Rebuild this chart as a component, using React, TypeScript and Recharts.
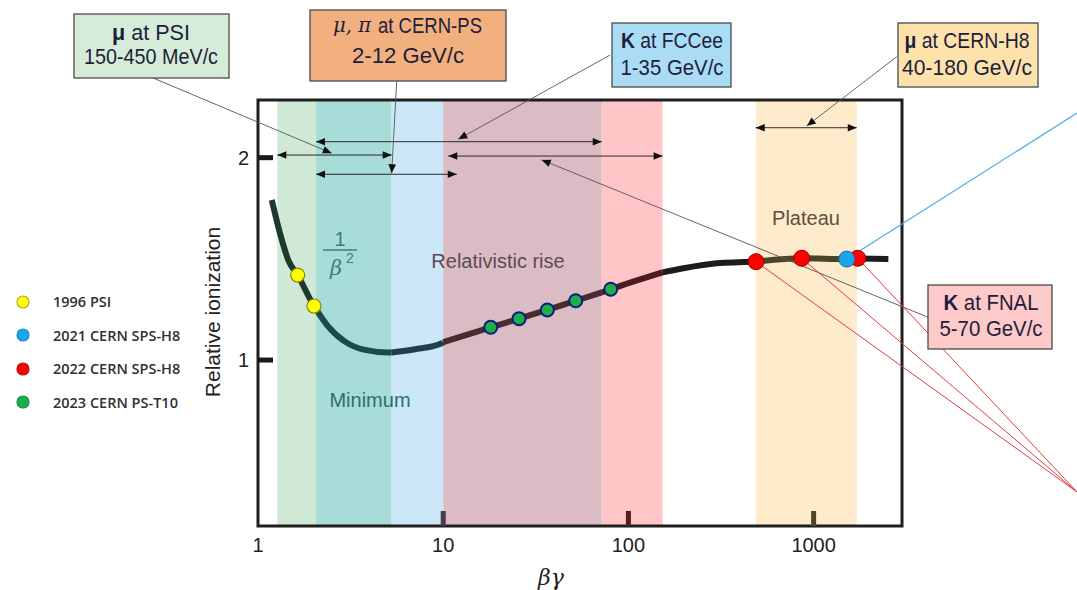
import React from "react";
import {
  ComposedChart,
  Line,
  Scatter,
  XAxis,
  YAxis,
  ReferenceArea,
  ReferenceLine,
  Legend,
} from "recharts";

// ionization curve (βγ, relative ionization)
const CURVE_X = [1.186, 1.315, 1.457, 1.638, 2.006, 2.057, 2.397, 2.95, 3.782, 5.053, 5.27, 7.043, 9.815, 10, 18.05, 25.67, 36.48, 51.94, 71.8, 80.26, 153, 197.9, 299.9, 487, 862.4, 1509, 1709, 2532];
const CURVE_Y = [1.791, 1.626, 1.494, 1.42, 1.267, 1.252, 1.165, 1.091, 1.05, 1.037, 1.037, 1.053, 1.083, 1.089, 1.162, 1.2045, 1.2475, 1.293, 1.334, 1.35, 1.433, 1.4535, 1.478, 1.486, 1.503, 1.499, 1.502, 1.499];

// the curve takes the tint of the band it runs through
const CURVE_BREAKS = [2.057, 5.27, 10, 71.8, 153, 487, 1709];
const CURVE_COLORS = ["#1d3a2c", "#1b4a47", "#213e4f", "#4a2b32", "#4a1d1f", "#1c1c1c", "#4c4427", "#1c1c1c"];

// shaded βγ ranges
const BAND_FROM = [1.271, 2.057, 5.27, 10, 71.8, 487];
const BAND_TO = [2.057, 5.27, 10, 71.8, 153, 1709];
const BAND_FILL = ["#d0e9d6", "#a7dcd8", "#cce8f8", "#dbbcc5", "#ffc5c7", "#fdebcb"];

// double arrows: βγ range covered by each beam
const SPAN_FROM = [1.271, 2.057, 2.057, 10.65, 487];
const SPAN_TO = [5.27, 71.8, 11.83, 153, 1709];
const SPAN_AT = [2.013, 2.079, 1.918, 2.008, 2.148];

// leader lines, box -> arrow
const LEADER_FROM = [[0.271, 2.394], [5.61, 2.379], [79.55, 2.507], [2810, 2.499], [4163, 1.211]];
const LEADER_TO = [[2.5, 2.022], [5.27, 1.923], [12.06, 2.091], [918, 2.157], [34.03, 1.989]];

// measurements
const PSI_1996 = [[1.638, 1.42], [2.006, 1.267]];
const SPS_2021 = [[1509, 1.499]];
const SPS_2022 = [[488.7, 1.486], [862.4, 1.503], [1730, 1.503]];
const PS_2023 = [[18.05, 1.162], [25.67, 1.2045], [36.48, 1.2475], [51.94, 1.293], [80.26, 1.35]];

// pointer lines running off the right edge
const BLUE_END = [26440, 2.221];
const RED_END = [26440, 0.348];

const X_TICKS = [1, 10, 100, 1000];
const Y_TICKS = [1, 2];
const X_TICK_COLOR: Record<number, string> = { 10: "#4b3b48", 100: "#561c1e", 1000: "#4e4528" };

const SERIES = [
  { name: "1996 PSI", fill: "#ffff00", edge: "#8c8410", r: 7, sw: 1.2, data: PSI_1996 },
  { name: "2021 CERN SPS-H8", fill: "#1ba6ea", edge: "#1a6aa8", r: 8, sw: 1, data: SPS_2021 },
  { name: "2022 CERN SPS-H8", fill: "#ff0000", edge: "#9a0000", r: 8, sw: 1, data: SPS_2022 },
  { name: "2023 CERN PS-T10", fill: "#1fae4a", edge: "#0b1f7c", r: 6.5, sw: 2, data: PS_2023 },
];
const LEGEND_EDGE = ["#b5ad20", "#1a8ad0", "#c01010", "#169040"];

const BOXES = [
  { x: 74, y: 14, w: 155, h: 64, fill: "#d5ecd9", cx: 151, lines: [{ b: "μ", t: " at PSI", w: 78, cy: 31.7 }, { t: "150-450 MeV/c", w: 134, cy: 56 }] },
  { x: 310, y: 10, w: 196, h: 71, fill: "#f2b07e", cx: 408, lines: [{ t: "2-12 GeV/c", w: 112, cy: 55 }] },
  { x: 612, y: 23, w: 119, h: 64, fill: "#aadcf6", cx: 672, lines: [{ b: "K", t: " at FCCee", w: 102, cy: 40 }, { t: "1-35 GeV/c", w: 103, cy: 66.7 }] },
  { x: 898, y: 23, w: 140, h: 64, fill: "#fde3ab", cx: 967, lines: [{ b: "μ", t: " at CERN-H8", w: 125, cy: 40 }, { t: "40-180 GeV/c", w: 130, cy: 66.7 }] },
  { x: 928, y: 285, w: 124, h: 64, fill: "#fdc9c9", cx: 991, lines: [{ b: "K", t: " at FNAL", w: 95, cy: 301.7 }, { t: "5-70 GeV/c", w: 103, cy: 328.3 }] },
];

const toPts = (xs: number[], ys: number[]) => xs.map((x, i) => ({ x, y: ys[i] }));
const pairPts = (arr: number[][]) => arr.map(([x, y]) => ({ x, y }));

function arrowHead(tx: number, ty: number, fx: number, fy: number) {
  const dx = tx - fx;
  const dy = ty - fy;
  const len = Math.hypot(dx, dy) || 1;
  const ux = dx / len;
  const uy = dy / len;
  const L = 9;
  const W = 3.8;
  const bx = tx - ux * L;
  const by = ty - uy * L;
  return `${tx},${ty} ${bx - uy * W},${by + ux * W} ${bx + uy * W},${by - ux * W}`;
}

function arrowShape(both: boolean, color: string, width: number) {
  return function (p: any) {
    const { x1, y1, x2, y2 } = p;
    return (
      <g>
        <line x1={x1} y1={y1} x2={x2} y2={y2} stroke={color} strokeWidth={width} />
        <polygon points={arrowHead(x2, y2, x1, y1)} fill="#111" />
        {both && <polygon points={arrowHead(x1, y1, x2, y2)} fill="#111" />}
      </g>
    );
  };
}

function XTick(props: any) {
  const { x, y, payload } = props;
  const v = payload.value;
  return (
    <g>
      {v !== 1 && <rect x={x - 2.5} y={y - 15} width={5} height={15} fill={X_TICK_COLOR[v] || "#222"} />}
      <text x={x} y={y + 19} textAnchor="middle" dominantBaseline="central" fontSize={20} fill="#222" fontFamily="Liberation Sans">
        {v}
      </text>
    </g>
  );
}

function YTick(props: any) {
  const { x, y, payload } = props;
  return (
    <g>
      <rect x={x} y={y - 2.5} width={15} height={5} fill="#1a1a1a" />
      <text x={x - 9} y={y} textAnchor="end" dominantBaseline="central" fontSize={20} fill="#222" fontFamily="Liberation Sans">
        {payload.value}
      </text>
    </g>
  );
}

function LegendBox() {
  return (
    <div style={{ fontFamily: "Open Sans", fontWeight: 600, fontSize: 14.5, color: "#303030" }}>
      {SERIES.map((s, i) => (
        <div key={s.name} style={{ height: 33.5, display: "flex", alignItems: "center" }}>
          <svg width={53} height={16}>
            <circle cx={23} cy={8} r={6} fill={s.fill} stroke={LEGEND_EDGE[i]} strokeWidth={1.2} />
          </svg>
          <span>{s.name}</span>
        </div>
      ))}
    </div>
  );
}

export default function App() {
  const curve = toPts(CURVE_X, CURVE_Y);
  const segments = CURVE_COLORS.map(function (color, i) {
    const lo = i === 0 ? -Infinity : CURVE_BREAKS[i - 1];
    const hi = i === CURVE_BREAKS.length ? Infinity : CURVE_BREAKS[i];
    return { color, data: curve.filter((p) => p.x >= lo && p.x <= hi) };
  });
  // red dots drawn before the blue one, which sits on top
  const drawOrder = [SERIES[0], SERIES[3], SERIES[2], SERIES[1]];

  return (
    <div style={{ position: "relative", width: 1077, height: 590, fontFamily: "Liberation Sans", background: "#fff" }}>
      <style>{"body{margin:0}"}</style>
      <ComposedChart width={1077} height={590} margin={{ top: 100, right: 175, bottom: 0, left: 200 }}>
        {BAND_FROM.map((from, i) => (
          <ReferenceArea key={"band" + i} x1={from} x2={BAND_TO[i]} y1={0.18} y2={2.285} fill={BAND_FILL[i]} fillOpacity={1} stroke="none" />
        ))}
        <ReferenceArea x1={1} x2={3000} y1={0.18} y2={2.285} fill="none" stroke="#1f1f1f" strokeWidth={3} />

        <XAxis
          dataKey="x"
          type="number"
          scale="log"
          domain={[1, 3000]}
          allowDataOverflow
          ticks={X_TICKS}
          interval={0}
          height={64}
          axisLine={false}
          tickLine={false}
          tickSize={0}
          tickMargin={0}
          tick={<XTick />}
        />
        <YAxis
          dataKey="y"
          type="number"
          domain={[0.18, 2.285]}
          allowDataOverflow
          ticks={Y_TICKS}
          interval={0}
          width={58}
          axisLine={false}
          tickLine={false}
          tickSize={0}
          tickMargin={0}
          tick={<YTick />}
        />

        {segments.map((seg, i) => (
          <Line
            key={"seg" + i}
            data={seg.data}
            dataKey="y"
            type="monotone"
            stroke={seg.color}
            strokeWidth={6}
            dot={false}
            activeDot={false}
            legendType="none"
            isAnimationActive={false}
          />
        ))}

        {SPAN_FROM.map((from, i) => (
          <ReferenceLine
            key={"span" + i}
            segment={[{ x: from, y: SPAN_AT[i] }, { x: SPAN_TO[i], y: SPAN_AT[i] }]}
            ifOverflow="visible"
            shape={arrowShape(true, "#2a2a2a", 1)}
          />
        ))}
        {LEADER_FROM.map((from, i) => (
          <ReferenceLine
            key={"lead" + i}
            segment={[{ x: from[0], y: from[1] }, { x: LEADER_TO[i][0], y: LEADER_TO[i][1] }]}
            ifOverflow="visible"
            shape={arrowShape(false, "#555", 0.9)}
          />
        ))}
        {SPS_2022.map((p, i) => (
          <ReferenceLine
            key={"red" + i}
            segment={[{ x: p[0], y: p[1] }, { x: RED_END[0], y: RED_END[1] }]}
            ifOverflow="visible"
            stroke="#e23c3c"
            strokeWidth={1}
          />
        ))}
        <ReferenceLine
          segment={[{ x: SPS_2021[0][0], y: SPS_2021[0][1] }, { x: BLUE_END[0], y: BLUE_END[1] }]}
          ifOverflow="visible"
          stroke="#46ace0"
          strokeWidth={1.2}
        />

        {drawOrder.map((s) => (
          <Scatter
            key={s.name}
            name={s.name}
            data={pairPts(s.data)}
            dataKey="y"
            fill={s.fill}
            isAnimationActive={false}
            shape={(p: any) => <circle cx={p.cx} cy={p.cy} r={s.r} fill={s.fill} stroke={s.edge} strokeWidth={s.sw} />}
          />
        ))}

        <Legend
          layout="vertical"
          align="center"
          verticalAlign="middle"
          wrapperStyle={{ left: 0, top: 285, width: 200, height: 134 }}
          content={() => <LegendBox />}
        />
      </ComposedChart>

      <svg width={1077} height={590} style={{ position: "absolute", left: 0, top: 0, pointerEvents: "none" }}>
        {BOXES.map((b, i) => (
          <g key={"box" + i}>
            <rect x={b.x} y={b.y} width={b.w} height={b.h} fill={b.fill} stroke="#4a4a4a" strokeWidth={1.3} />
            {b.lines.map((ln: any, j: number) => (
              <text
                key={j}
                x={b.cx}
                y={ln.cy}
                textAnchor="middle"
                dominantBaseline="central"
                fontSize={22}
                fill="#1e1e3a"
                textLength={ln.w}
                lengthAdjust="spacingAndGlyphs"
              >
                {ln.b && <tspan fontWeight="bold">{ln.b}</tspan>}
                <tspan>{ln.t}</tspan>
              </text>
            ))}
          </g>
        ))}
        {/* the CERN-PS box title mixes a math font with plain text */}
        <text x={333} y={25} dominantBaseline="central" fontSize={21} fill="#1e1e3a" fontFamily="DejaVu Serif" fontStyle="italic" textLength={38} lengthAdjust="spacingAndGlyphs">
          μ, π
        </text>
        <text x={378} y={25} dominantBaseline="central" fontSize={22} fill="#1e1e3a" textLength={104} lengthAdjust="spacingAndGlyphs">
          at CERN-PS
        </text>

        <text x={498} y={261} textAnchor="middle" dominantBaseline="central" fontSize={20} fill="#5b4b55">Relativistic rise</text>
        <text x={806} y={218} textAnchor="middle" dominantBaseline="central" fontSize={20} fill="#5d5040">Plateau</text>
        <text x={370} y={400} textAnchor="middle" dominantBaseline="central" fontSize={20} fill="#2f6e6c">Minimum</text>
        <text x={340} y={239} textAnchor="middle" dominantBaseline="central" fontSize={20} fill="#3a7f7d">1</text>
        <line x1={323} y1={250} x2={357} y2={250} stroke="#3a7f7d" strokeWidth={1.5} />
        <text x={336} y={268} textAnchor="middle" dominantBaseline="central" fontSize={21} fill="#3a7f7d" fontFamily="DejaVu Serif" fontStyle="italic">β</text>
        <text x={350} y={258} textAnchor="middle" dominantBaseline="central" fontSize={14} fill="#3a7f7d">2</text>

        <text
          x={212}
          y={312}
          transform="rotate(-90 212 312)"
          textAnchor="middle"
          dominantBaseline="central"
          fontSize={21}
          fill="#222"
        >
          Relative ionization
        </text>
        <text x={551} y={577} textAnchor="middle" dominantBaseline="central" fontSize={22} fill="#222" fontFamily="DejaVu Serif" fontStyle="italic">
          βγ
        </text>
      </svg>
    </div>
  );
}
